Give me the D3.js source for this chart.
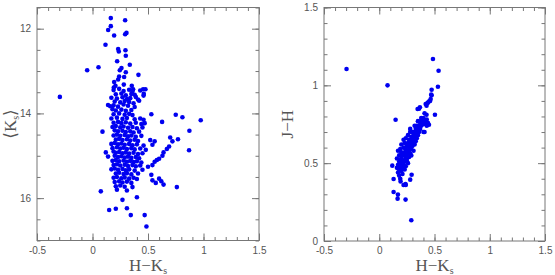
<!DOCTYPE html>
<html>
<head>
<meta charset="utf-8">
<script src="https://cdn.jsdelivr.net/npm/d3@7"></script>
<style>
  body { margin: 0; background: #fff; }
  .tick text { font-family: "Liberation Sans", Arial, sans-serif; font-size: 10px; fill: #555; }
  .tick line { stroke: #777; }
  .title { font-family: "Liberation Serif", "DejaVu Serif", serif; font-size: 17px; fill: #555; }
</style>
</head>
<body>
<svg id="canvas" width="555" height="275"></svg>
<script>
/** Left panel: H-Ks colour vs mean Ks magnitude */
const leftHK = [
  0.165, 0.294, 0.165, 0.141, 0.195, 0.306, 0.294, 0.117, 0.231, 0.237, 0.297, 0.300, 0.222, 0.336,
  -0.048, 0.054, 0.261, 0.246, 0.300, 0.414, 0.285, 0.240, 0.231, 0.195, 0.207, 0.192, 0.282, 0.354,
  0.366, -0.294, 0.456, 0.477, 0.462,
  0.19, 0.24, 0.28, 0.33, 0.36, 0.43,
  0.21, 0.26, 0.30, 0.35, 0.38, 0.46,
  0.17, 0.22, 0.27, 0.31, 0.34, 0.39, 0.41,
  0.20, 0.25, 0.29, 0.33, 0.37, 0.42,
  0.14, 0.16, 0.19, 0.23, 0.28, 0.32, 0.38,
  0.18, 0.21, 0.26, 0.30, 0.35,
  0.19, 0.24, 0.29, 0.33, 0.36, 0.53, 0.75, 0.81,
  0.17, 0.22, 0.27, 0.31, 0.38, 0.43, 0.46, 0.975, 0.627,
  0.19, 0.23, 0.26, 0.30, 0.34, 0.39, 0.44, 0.47,
  0.18, 0.21, 0.25, 0.28, 0.32, 0.36, 0.40, 0.45,
  0.09, 0.20, 0.23, 0.27, 0.30, 0.34, 0.37, 0.42, 0.873,
  0.19, 0.22, 0.25, 0.29, 0.32, 0.35, 0.39, 0.44, 0.70,
  0.21, 0.24, 0.27, 0.31, 0.34, 0.38, 0.41, 0.52, 0.56, 0.77, 0.72,
  0.17, 0.20, 0.23, 0.26, 0.29, 0.33, 0.36, 0.40, 0.46, 0.54, 0.69,
  0.18, 0.22, 0.25, 0.28, 0.31, 0.35, 0.38, 0.43, 0.48, 0.67, 0.87,
  0.12, 0.19, 0.21, 0.24, 0.27, 0.30, 0.33, 0.37, 0.41, 0.45, 0.64,
  0.14, 0.20, 0.23, 0.26, 0.29, 0.32, 0.35, 0.39, 0.42, 0.60, 0.63,
  0.18, 0.21, 0.24, 0.28, 0.31, 0.34, 0.37, 0.40, 0.44, 0.56, 0.58,
  0.19, 0.22, 0.25, 0.29, 0.32, 0.36, 0.39, 0.43, 0.50, 0.54,
  0.17, 0.20, 0.23, 0.27, 0.30, 0.33, 0.38, 0.45,
  0.21, 0.24, 0.28, 0.31, 0.35, 0.41, 0.53,
  0.19, 0.22, 0.26, 0.29, 0.33, 0.37, 0.40, 0.54, 0.60,
  0.20, 0.24, 0.27, 0.31, 0.35, 0.57, 0.62, 0.64,
  0.21, 0.25, 0.29, 0.36, 0.76,
  0.075, 0.22, 0.31, 0.40, 0.27, 0.31, 0.15, 0.21, 0.345, 0.47, 0.486
];
const leftKs = [
  11.75, 11.80, 11.94, 12.03, 12.16, 12.10, 12.13, 12.38, 12.48, 12.54, 12.51, 12.64, 12.77, 12.85,
  12.98, 12.91, 12.93, 12.98, 13.03, 13.09, 13.14, 13.13, 13.20, 13.26, 13.35, 13.39, 13.32, 13.35,
  13.43, 13.61, 13.43, 13.43, 13.54,
  13.45, 13.42, 13.47, 13.44, 13.48, 13.46,
  13.55, 13.53, 13.57, 13.54, 13.56, 13.58,
  13.63, 13.65, 13.62, 13.66, 13.64, 13.61, 13.67,
  13.72, 13.74, 13.71, 13.73, 13.76, 13.70,
  13.80, 13.83, 13.81, 13.84, 13.79, 13.82, 13.85,
  13.90, 13.93, 13.91, 13.94, 13.92,
  14.02, 14.00, 14.03, 14.01, 14.04, 14.02, 14.03, 14.09,
  14.12, 14.10, 14.13, 14.11, 14.14, 14.12, 14.15, 14.16, 14.20,
  14.22, 14.20, 14.23, 14.21, 14.24, 14.22, 14.25, 14.23,
  14.32, 14.30, 14.33, 14.31, 14.34, 14.32, 14.35, 14.33,
  14.43, 14.40, 14.42, 14.41, 14.44, 14.42, 14.45, 14.43, 14.41,
  14.52, 14.50, 14.53, 14.51, 14.54, 14.52, 14.55, 14.53, 14.57,
  14.62, 14.60, 14.63, 14.61, 14.64, 14.62, 14.65, 14.63, 14.66, 14.61, 14.66,
  14.72, 14.70, 14.73, 14.71, 14.74, 14.72, 14.75, 14.73, 14.76, 14.74, 14.78,
  14.82, 14.80, 14.83, 14.81, 14.84, 14.82, 14.85, 14.83, 14.86, 14.84, 14.87,
  14.92, 14.90, 14.93, 14.91, 14.94, 14.92, 14.95, 14.93, 14.96, 14.94, 14.92,
  15.02, 15.00, 15.03, 15.01, 15.04, 15.02, 15.05, 15.03, 15.06, 15.07, 15.00,
  15.12, 15.10, 15.13, 15.11, 15.14, 15.12, 15.15, 15.13, 15.16, 15.14, 15.10,
  15.22, 15.20, 15.23, 15.21, 15.24, 15.22, 15.25, 15.23, 15.26, 15.22,
  15.32, 15.30, 15.33, 15.31, 15.34, 15.32, 15.35, 15.33,
  15.42, 15.40, 15.43, 15.41, 15.44, 15.42, 15.45,
  15.52, 15.50, 15.53, 15.51, 15.54, 15.52, 15.55, 15.58, 15.54,
  15.62, 15.60, 15.63, 15.61, 15.64, 15.64, 15.60, 15.68,
  15.72, 15.70, 15.73, 15.74, 15.74,
  15.84, 15.80, 15.82, 15.98, 16.04, 16.24, 16.28, 16.25, 16.40, 16.40, 16.67
];

/** Right panel: H-Ks colour vs J-H colour */
const rightHK = [
  -0.296, 0.075, 0.486, 0.537, 0.531, 0.474, 0.474, 0.465, 0.452, 0.437, 0.428, 0.504, 0.148,
  0.368, 0.347, 0.428, 0.392, 0.377, 0.413, 0.45,
  0.118, 0.13, 0.193, 0.238, 0.28, 0.293, 0.13, 0.169, 0.166, 0.238, 0.29,
  0.16, 0.16, 0.17, 0.17, 0.17, 0.18, 0.18, 0.18, 0.18, 0.19, 0.19, 0.19, 0.19,
  0.20, 0.20, 0.20, 0.20, 0.20, 0.21, 0.21, 0.21, 0.21, 0.22, 0.22, 0.22, 0.22, 0.22,
  0.23, 0.23, 0.23, 0.23, 0.24, 0.24, 0.24, 0.24, 0.24, 0.25, 0.25, 0.25, 0.25,
  0.26, 0.26, 0.26, 0.26, 0.27, 0.27, 0.27, 0.27, 0.28, 0.28, 0.28, 0.28,
  0.29, 0.29, 0.29, 0.29, 0.30, 0.30, 0.30, 0.31, 0.31, 0.31, 0.32, 0.32, 0.32, 0.32,
  0.33, 0.33, 0.33, 0.34, 0.34, 0.34, 0.35, 0.35, 0.35, 0.36, 0.36, 0.36, 0.37, 0.37,
  0.38, 0.38, 0.38, 0.39, 0.39, 0.40, 0.40, 0.40, 0.41, 0.41, 0.41, 0.42, 0.42,
  0.43, 0.43, 0.44, 0.44, 0.46, 0.47
];
const rightJH = [
  1.105, 1.0, 1.169, 1.094, 0.991, 0.972, 0.936, 0.912, 0.897, 0.886, 0.869, 0.811, 0.779,
  0.859, 0.848, 0.811, 0.784, 0.769, 0.754, 0.747,
  0.484, 0.398, 0.383, 0.366, 0.394, 0.426, 0.315, 0.298, 0.272, 0.266, 0.133,
  0.53, 0.47, 0.49, 0.44, 0.58, 0.42, 0.46, 0.51, 0.55, 0.48, 0.52, 0.59, 0.40,
  0.45, 0.50, 0.54, 0.57, 0.62, 0.47, 0.52, 0.56, 0.43, 0.49, 0.55, 0.60, 0.65, 0.36,
  0.51, 0.57, 0.63, 0.46, 0.48, 0.53, 0.59, 0.66, 0.36, 0.52, 0.56, 0.61, 0.55,
  0.50, 0.58, 0.63, 0.68, 0.54, 0.60, 0.65, 0.57, 0.56, 0.62, 0.70, 0.72,
  0.59, 0.64, 0.67, 0.55, 0.61, 0.66, 0.70, 0.63, 0.68, 0.58, 0.65, 0.70, 0.74, 0.62,
  0.67, 0.72, 0.64, 0.69, 0.74, 0.66, 0.71, 0.68, 0.77, 0.70, 0.73, 0.85, 0.72, 0.75,
  0.74, 0.77, 0.79, 0.76, 0.78, 0.75, 0.79, 0.70, 0.77, 0.70, 0.82, 0.76, 0.88,
  0.78, 0.74, 0.89, 0.76, 0.90, 0.94
];

/** Tick values */
const xMajor = [-0.5, 0, 0.5, 1, 1.5];
const xMinor = d3.range(-5, 16).map(d => d / 10);
const leftYMajor = [12, 14, 16];
const leftYMinor = d3.range(23, 35).map(d => d / 2);
const rightYMajor = [0, 0.5, 1, 1.5];
const rightYMinor = d3.range(0, 16).map(d => d / 10);

let canvas = d3.select('#canvas');

/** Draws one framed panel with inward ticks on every side */
const drawPanel = (opt) => {
    let w = opt.x1 - opt.x0;
    let h = opt.y1 - opt.y0;
    let g = canvas.append('g').attr('transform', `translate(${opt.x0},${opt.y0})`);

    let x = d3.scaleLinear().domain([-0.5, 1.5]).range([0, w]);
    let y = d3.scaleLinear().domain(opt.yDomain).range([h, 0]);

    const axisSet = (axisFn, scale, major, minor, tr, labels) => {
        g.append('g').attr('transform', tr)
            .call(axisFn(scale).tickValues(minor).tickSize(-3.5).tickFormat(''))
            .call(s => s.select('.domain').remove());
        let a = axisFn(scale).tickValues(major).tickSize(-7).tickPadding(6);
        a.tickFormat(labels ? (d => d) : '');
        g.append('g').attr('transform', tr)
            .call(a)
            .call(s => s.select('.domain').remove());
    };

    axisSet(d3.axisBottom, x, xMajor, xMinor, `translate(0,${h})`, true);
    axisSet(d3.axisTop, x, xMajor, xMinor, 'translate(0,0)', false);
    axisSet(d3.axisLeft, y, opt.yMajor, opt.yMinor, 'translate(0,0)', true);
    axisSet(d3.axisRight, y, opt.yMajor, opt.yMinor, `translate(${w},0)`, false);

    g.append('rect')
        .attr('width', w).attr('height', h)
        .attr('fill', 'none').attr('stroke', '#777').attr('stroke-width', 1);

    g.selectAll('circle')
        .data(opt.xs.map((d, i) => [d, opt.ys[i]]))
        .enter()
        .append('circle')
        .attr('cx', d => x(d[0]))
        .attr('cy', d => y(d[1]))
        .attr('r', 2.3)
        .attr('fill', '#0000f0');

    /** x title H-Ks */
    let xt = canvas.append('text').attr('class', 'title')
        .attr('x', opt.x0 + w / 2).attr('y', 271).attr('text-anchor', 'middle');
    xt.append('tspan').text('H\u2212K');
    xt.append('tspan').attr('font-size', '10px').attr('dy', 3).text('s');

    /** y title */
    let yt = canvas.append('text').attr('class', 'title')
        .attr('transform', `translate(${opt.yTitleX},${opt.y0 + h / 2}) rotate(-90)`)
        .attr('text-anchor', 'middle');
    opt.yTitle(yt);
};

drawPanel({
    x0: 37, x1: 259, y0: 7.5, y1: 240.5,
    yDomain: [17, 11.5], yMajor: leftYMajor, yMinor: leftYMinor,
    xs: leftHK, ys: leftKs, yTitleX: 16,
    yTitle: (t) => {
        t.append('tspan').text('\u27e8K');
        t.append('tspan').attr('font-size', '10px').attr('dy', 3).text('s');
        t.append('tspan').attr('dy', -3).text('\u27e9');
    }
});

drawPanel({
    x0: 324, x1: 545, y0: 7.5, y1: 241,
    yDomain: [0, 1.5], yMajor: rightYMajor, yMinor: rightYMinor,
    xs: rightHK, ys: rightJH, yTitleX: 293,
    yTitle: (t) => { t.text('J\u2212H'); }
});
</script>
</body>
</html>
